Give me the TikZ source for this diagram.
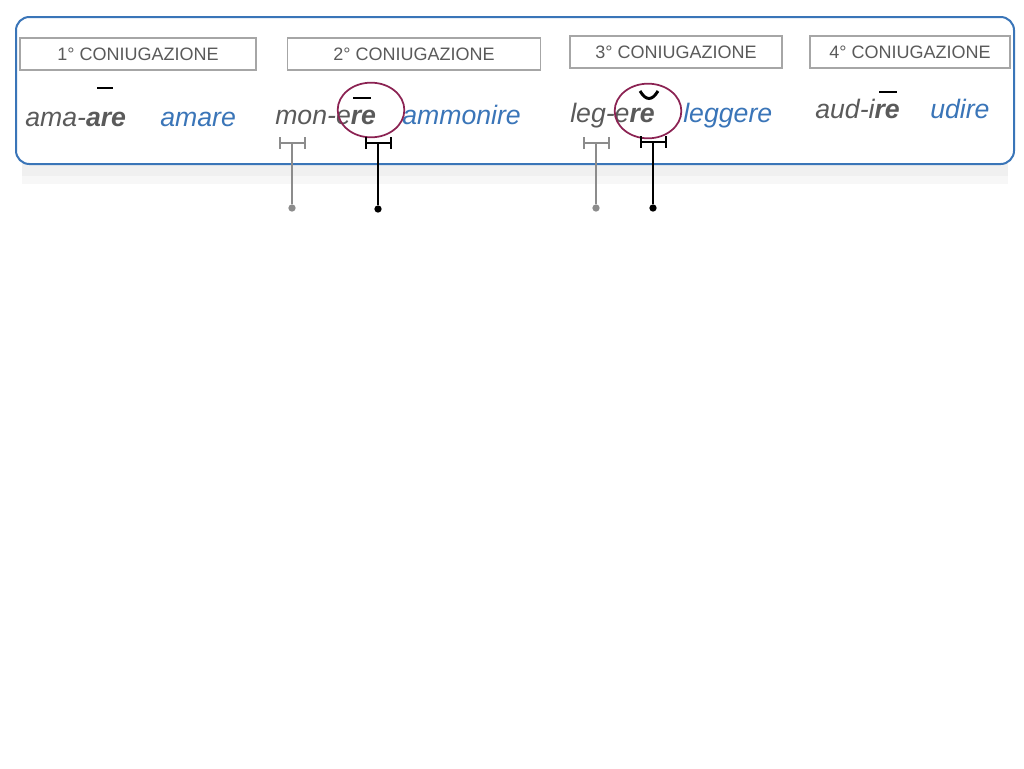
\documentclass[tikz,border=0pt]{standalone}
\usepackage{fontspec}
\setmainfont{Liberation Sans}
\usetikzlibrary{shapes.geometric}
\usetikzlibrary{positioning}
\definecolor{wordgray}{HTML}{5A5A5A}
\definecolor{wordblue}{HTML}{3A75B8}
\definecolor{ringred}{HTML}{8B2252}
\tikzstyle{titlebox} = [rectangle, draw=black!35, line width=0.8pt, text=wordgray, font=\fontsize{13.5}{15}\selectfont, inner sep=0pt]
\tikzstyle{stem} = [anchor=base west, inner sep=0pt, text=wordgray, font=\fontsize{20}{22}\selectfont\itshape]
\tikzstyle{meaning} = [anchor=base west, inner sep=0pt, text=wordblue, font=\fontsize{20}{22}\selectfont\itshape]
\tikzstyle{ring} = [ellipse, draw=ringred, line width=1.3pt, minimum width=50pt, minimum height=41pt]
\tikzstyle{quantity} = [line width=2.2pt]
\tikzstyle{bracket} = [line width=1.3pt, |-|]
\tikzstyle{dot} = [circle, fill, inner sep=0pt, minimum size=5.5pt]

\begin{document}
\begin{tikzpicture}[x=0.75pt, y=-0.75pt]
  \useasboundingbox (0,0) rectangle (1024,768);
  % shadow and frame
  \fill[black!6] (22,158) rectangle (1008,176);
  \fill[black!3] (22,176) rectangle (1008,184);
  \draw[wordblue, line width=1.5pt, rounded corners=10pt, fill=white] (16,17) rectangle (1014,164);
  % titles
  \node (t1) [titlebox, minimum width=177pt, minimum height=24pt] at (138,54) {1° CONIUGAZIONE};
  \node (t2) [titlebox, minimum width=190pt, minimum height=24pt] at (414,54) {2° CONIUGAZIONE};
  \node (t3) [titlebox, minimum width=159pt, minimum height=24pt] at (676,52) {3° CONIUGAZIONE};
  \node (t4) [titlebox, minimum width=150pt, minimum height=24pt] at (910,52) {4° CONIUGAZIONE};
  % words
  \node (w1) [stem] at (25,126) {ama-\textbf{are}};
  \node (m1) [meaning] at (160,126) {amare};
  \node (w2) [stem] at (275,124) {mon-e\textbf{re}};
  \node (m2) [meaning] at (402,124) {ammonire};
  \node (w3) [stem] at (570,122) {leg-e\textbf{re}};
  \node (m3) [meaning] at (683,122) {leggere};
  \node (w4) [stem] at (815,118) {aud-i\textbf{re}};
  \node (m4) [meaning] at (930,118) {udire};
  % quantity marks
  \draw[quantity] (97,88) -- (113,88);
  \draw[quantity] (353,98) -- (371,98);
  \draw[quantity] (640,91) .. controls (646,101) and (652,101) .. (658,91);
  \draw[quantity] (879,92) -- (897,92);
  % rings
  \node (r2) [ring] at (371,110) {};
  \node (r3) [ring] at (648,111) {};
  % brackets
  \coordinate (b1) at (292,143);
  \coordinate (b2) at (378,143);
  \coordinate (b3) at (596,143);
  \coordinate (b4) at (653,142);
  \draw[bracket, black!45] (279,143) -- (306,143);
  \draw[bracket, black] (365,143) -- (392,143);
  \draw[bracket, black!45] (583,143) -- (610,143);
  \draw[bracket, black] (640,142) -- (667,142);
  \node (d1) [dot, black!45] at (292,208) {};
  \node (d2) [dot, black] at (378,209) {};
  \node (d3) [dot, black!45] at (596,208) {};
  \node (d4) [dot, black] at (653,208) {};
  \draw[line width=1.3pt, black!45] (b1) -- (d1);
  \draw[line width=1.3pt, black] (b2) -- (d2);
  \draw[line width=1.3pt, black!45] (b3) -- (d3);
  \draw[line width=1.3pt, black] (b4) -- (d4);
\end{tikzpicture}
\end{document}
